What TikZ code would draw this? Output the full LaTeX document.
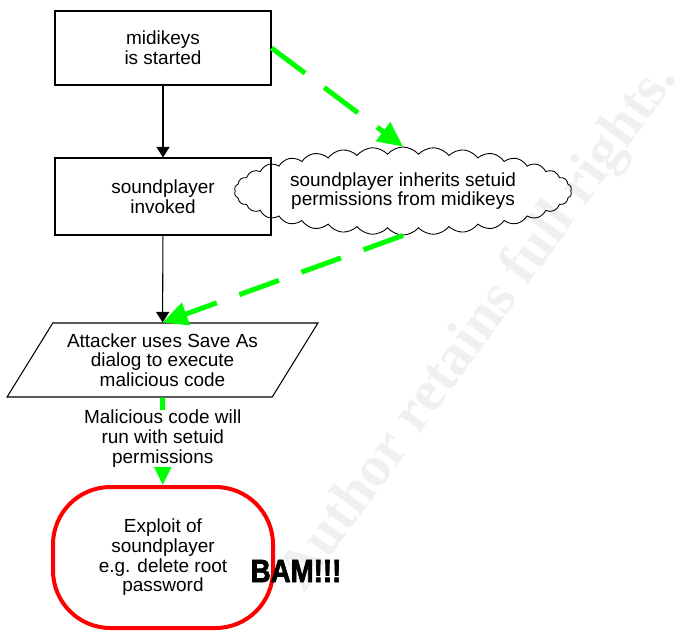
\documentclass[tikz,border=0pt]{standalone}
\usepackage{fontspec}
\setmainfont{Liberation Sans}
\newfontfamily\wmfont{Liberation Serif}
\newfontfamily\bamfont{Liberation Sans}[BoldFeatures={FakeBold=2.5}]
\usetikzlibrary{shapes.geometric,shapes.symbols,arrows.meta}
\definecolor{setuidgreen}{RGB}{0,255,0}
\definecolor{exploitred}{RGB}{255,0,0}

\tikzset{
    txt/.style={align=center,font=\fontsize{10.8}{11.2}\selectfont},
    procbox/.style={txt,draw,line width=0.6pt,minimum width=4.32cm},
    flow/.style={line width=0.6pt,-{Triangle[length=6pt,width=7.4pt]}},
    inherit/.style={setuidgreen,line width=0.1cm,-{Triangle[length=0.5cm,width=0.46cm]}},
    longdash/.style={dash pattern=on 0.84cm off 0.48cm},
    wmark/.style={black!6,rotate=54,font=\wmfont\bfseries\fontsize{33}{33}\selectfont}
}

\begin{document}
\begin{tikzpicture}
    \useasboundingbox (0,0) rectangle (13.84,-12.66);
    \node[wmark] (wm) at (9.6,-6.55) {Author retains full rights.};
    \node[procbox,minimum height=1.48cm] (midikeys) at (3.26,-0.96) {midikeys\\is started};
    \node[procbox,minimum height=1.54cm] (invoked) at (3.26,-3.93) {soundplayer\\invoked};
    \node[txt,cloud,draw,line width=0.5pt,cloud puffs=34,cloud puff arc=100,cloud ignores aspect,
        minimum width=6.26cm,minimum height=1.76cm] (inherits) at (8.06,-3.82)
        {soundplayer inherits setuid\\permissions from midikeys};
    \node[txt,trapezium,draw,line width=0.6pt,trapezium left angle=57,trapezium right angle=123,
        trapezium stretches=true,minimum width=6.22cm,minimum height=1.48cm] (saveas) at (3.25,-7.2)
        {Attacker uses Save As\\dialog to execute\\malicious code};
    \node[txt,draw=exploitred,line width=0.08cm,rounded corners=1.15cm,minimum width=4.4cm,
        minimum height=2.82cm] (exploit) at (3.26,-11.15) {Exploit of\\soundplayer\\e.g. delete root\\password};
    \node[font=\bamfont\bfseries\fontsize{15}{15}\selectfont] (bam) at (5.92,-11.42) {\scalebox{1.05}[1.22]{BAM!!!}};
    \draw[flow] (midikeys) -- (invoked);
    \draw[flow] (invoked) -- (saveas);
    \draw[inherit,longdash] (midikeys.east) -- (inherits.north);
    \draw[inherit,longdash] (inherits.south) -- (saveas.north);
    \draw[inherit] (saveas) -- node[txt,text=black,fill=white,inner sep=0pt,pos=0.47]
        {Malicious code will\\run with setuid\\permissions} (exploit);
\end{tikzpicture}
\end{document}
